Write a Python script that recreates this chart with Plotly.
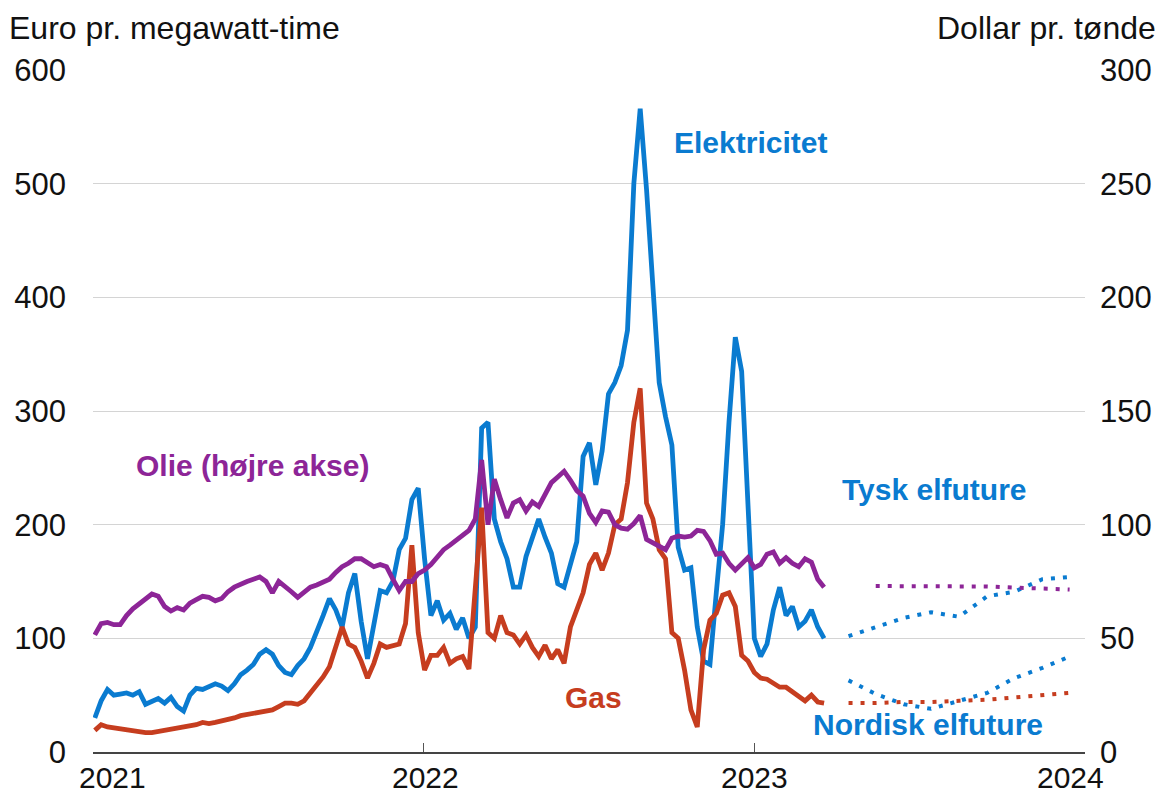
import pandas as pd
import plotly.graph_objects as go

# ugentlige observationer, jan 2021 - mar 2023
uge_start = "2021-01-03"

elektricitet = [
    30, 45, 55, 50, 51, 52, 50, 53, 42, 44,
    47, 43, 48, 40, 36, 50, 56, 55, 57, 60,
    58, 54, 60, 68, 72, 77, 86, 90, 86, 76,
    70, 68, 76, 82, 92, 105, 120, 135, 125, 110,
    140, 157, 115, 82, 115, 142, 140, 150, 178, 188,
    222, 232, 170, 120, 133, 116, 122, 108, 118, 100,
    110, 285, 290, 205, 185, 170, 145, 145, 172, 190,
    205, 189, 175, 148, 145, 165, 185, 260, 272, 235,
    265, 315, 325, 340, 371, 500, 566, 495, 410, 325,
    295, 270, 180, 160, 162, 110, 80, 77, 140, 200,
    290, 365, 335, 215, 100, 84, 95, 125, 145, 120,
    128, 110, 115, 125, 110, 100,
]

gas = [
    19, 24, 22, 21, 20, 19, 18, 18, 17, 17,
    18, 18, 19, 20, 21, 22, 24, 26, 25, 26,
    27, 28, 30, 32, 33, 34, 36, 36, 37, 40,
    43, 43, 42, 45, 52, 58, 66, 75, 92, 110,
    95, 92, 80, 65, 78, 95, 92, 94, 95, 113,
    182, 105, 72, 85, 85, 92, 78, 82, 84, 73,
    145, 215, 105, 100, 120, 105, 103, 95, 103, 92,
    84, 94, 82, 90, 78, 110, 125, 140, 165, 175,
    160, 175, 200, 205, 237, 290, 320, 219, 205, 178,
    170, 105, 100, 72, 37, 22, 90, 116, 122, 138,
    140, 128, 85, 80, 70, 65, 64, 60, 57, 57,
    53, 49, 45, 50, 44, 43,
]

# dollar pr. tønde (højre akse)
olie = [
    51.5, 56.5, 57, 56, 56, 60, 63, 65, 67.5, 69.5,
    68.5, 64, 62, 63.5, 62.5, 65.5, 67, 68.5, 68, 66.5,
    67.5, 70.5, 72.5, 74, 75, 76, 77, 75, 70, 75,
    73, 70.5, 68, 70, 72.5, 73.5, 75, 76, 79, 81.5,
    83, 85, 85, 83.5, 81.5, 82.5, 81.5, 76, 71, 75,
    75, 78.5, 80, 82.5, 86, 89, 91, 93, 95, 97.5,
    102.5, 128.5, 100, 120, 111, 103, 109.5, 111, 106, 110,
    108, 113, 118.5, 121, 123.5, 119.5, 115, 112.5, 105, 101,
    106, 105.5, 100, 98.5, 98, 100.5, 104, 93.5, 92, 90.5,
    89, 94, 95, 94.5, 95, 97.5, 97, 93, 87, 87.5,
    83, 80, 83, 85.5, 81, 82.5, 87, 88, 83, 85.5,
    83, 81.5, 85, 83.5, 76, 72.5,
]

# futures
future_datoer = ["2023-04-15", "2023-05-15", "2023-06-15", "2023-07-15", "2023-08-15",
                 "2023-09-15", "2023-10-15", "2023-11-15", "2023-12-15"]
tysk_elfuture = [102, 110, 118, 123, 119, 137, 141, 152, 154]
nordisk_elfuture = [63, 51, 42, 38, 45, 52, 65, 74, 84]
gas_future = [43, 43, 44, 44, 45, 46, 48, 50, 52]
olie_future_datoer = future_datoer[1:]
olie_future = [73, 73, 73, 73, 72.8, 72.3, 72, 71.5]

aar = ["2021-01-01", "2022-01-01", "2023-01-01", "2024-01-01"]
aar_tekst = ["2021", "2022", "2023", "2024"]
# etiketternes vandrette placering (yderste skubbet ind som i originalen)
aar_tekst_x = [0.020, 0.3347, 0.667, 0.985]

BLAA = "#0A7BD0"
ROED = "#C63D1F"
LILLA = "#8D2597"
FONT = "Liberation Sans, Arial, sans-serif"

datoer = pd.date_range(uge_start, periods=len(elektricitet), freq="7D")

fig = go.Figure()
lw = 4.8
fig.add_trace(go.Scatter(x=datoer, y=elektricitet, mode="lines",
                         line=dict(color=BLAA, width=lw)))
fig.add_trace(go.Scatter(x=datoer, y=gas, mode="lines",
                         line=dict(color=ROED, width=lw)))
fig.add_trace(go.Scatter(x=datoer, y=olie, mode="lines", yaxis="y2",
                         line=dict(color=LILLA, width=lw)))

dots = "4px,8px"
fig.add_trace(go.Scatter(x=future_datoer, y=tysk_elfuture, mode="lines",
                         line=dict(color=BLAA, width=4, dash=dots)))
fig.add_trace(go.Scatter(x=future_datoer, y=nordisk_elfuture, mode="lines",
                         line=dict(color=BLAA, width=4, dash=dots)))
fig.add_trace(go.Scatter(x=future_datoer, y=gas_future, mode="lines",
                         line=dict(color=ROED, width=4, dash=dots)))
fig.add_trace(go.Scatter(x=olie_future_datoer, y=olie_future, mode="lines", yaxis="y2",
                         line=dict(color=LILLA, width=4, dash=dots)))

tick_font = dict(family=FONT, size=31, color="#111111")
# siden har 8px body-margen, så figuren gøres tilsvarende mindre
fig.update_layout(
    width=1157,
    height=787,
    margin=dict(l=85, r=80, t=62, b=43, autoexpand=False),
    paper_bgcolor="white",
    plot_bgcolor="white",
    showlegend=False,
    font=dict(family=FONT),
    xaxis=dict(
        type="date",
        range=["2021-01-01", "2024-01-01"],
        tickvals=aar,
        ticktext=["", "", "", ""],
        ticks="inside",
        ticklen=9,
        tickwidth=1.3,
        tickcolor="#555555",
        showline=True,
        linecolor="#444444",
        linewidth=1.6,
        showgrid=False,
        automargin=False,
    ),
    yaxis=dict(
        range=[0, 600],
        tickvals=[0, 100, 200, 300, 400, 500, 600],
        showgrid=True,
        gridcolor="#d4d4d4",
        gridwidth=1.3,
        zeroline=False,
        showline=False,
        ticks="",
        tickfont=tick_font,
        ticklabelstandoff=26,
        automargin=False,
    ),
    yaxis2=dict(
        range=[0, 300],
        tickvals=[0, 50, 100, 150, 200, 250, 300],
        overlaying="y",
        side="right",
        showgrid=False,
        zeroline=False,
        showline=False,
        ticks="",
        tickfont=tick_font,
        ticklabelstandoff=14,
        automargin=False,
    ),
)

for tekst, x in zip(aar_tekst, aar_tekst_x):
    fig.add_annotation(text=tekst, xref="paper", yref="paper", x=x, y=-0.037,
                       xanchor="center", yanchor="middle", showarrow=False,
                       borderpad=0, font=dict(family=FONT, size=30, color="#111111"))

titel_font = dict(family=FONT, size=32, color="#111111")
fig.add_annotation(text="Euro pr. megawatt-time", xref="paper", yref="paper",
                   x=-0.0857, y=1.0895, xanchor="left", yanchor="top",
                   borderpad=0, showarrow=False, font=titel_font)
fig.add_annotation(text="Dollar pr. tønde", xref="paper", yref="paper",
                   x=1.0726, y=1.0895, xanchor="right", yanchor="top",
                   borderpad=0, showarrow=False, font=titel_font)

etiketter = [
    ("Elektricitet", 0.6623, 0.893, BLAA),
    ("Olie (højre akse)", 0.1603, 0.4194, LILLA),
    ("Tysk elfuture", 0.8478, 0.3842, BLAA),
    ("Nordisk elfuture", 0.8417, 0.0396, BLAA),
    ("Gas", 0.505, 0.0806, ROED),
]
for tekst, x, y, farve in etiketter:
    fig.add_annotation(text=f"<b>{tekst}</b>", xref="paper", yref="paper",
                       x=x, y=y, xanchor="center", yanchor="middle", showarrow=False,
                       font=dict(family=FONT, size=30, color=farve))

fig.write_html("out.html")
